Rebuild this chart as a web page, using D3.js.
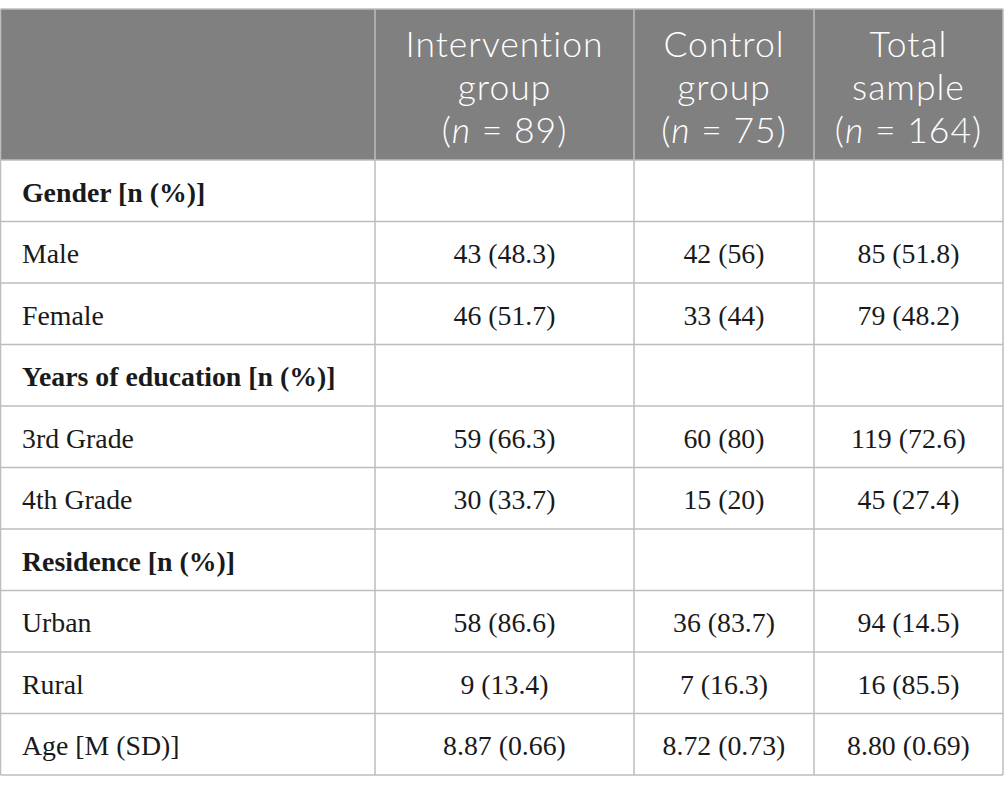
<!DOCTYPE html>
<html>
<head>
<meta charset="utf-8">
<script src="https://cdn.jsdelivr.net/npm/d3@7"></script>
<style>
  html, body { margin: 0; padding: 0; background: #fff; }
  svg { display: block; }
</style>
</head>
<body>
<div id="container"></div>
<script>
// table content
const headers = [
    [],
    ['Intervention', 'group', '89'],
    ['Control', 'group', '75'],
    ['Total', 'sample', '164']
];
const rowLabels = ['Gender [n (%)]', 'Male', 'Female', 'Years of education [n (%)]', '3rd Grade', '4th Grade',
    'Residence [n (%)]', 'Urban', 'Rural', 'Age [M (SD)]'];
const sectionRows = ['Gender [n (%)]', 'Years of education [n (%)]', 'Residence [n (%)]'];
const interventionVals = ['', '43 (48.3)', '46 (51.7)', '', '59 (66.3)', '30 (33.7)', '', '58 (86.6)', '9 (13.4)', '8.87 (0.66)'];
const controlVals = ['', '42 (56)', '33 (44)', '', '60 (80)', '15 (20)', '', '36 (83.7)', '7 (16.3)', '8.72 (0.73)'];
const totalVals = ['', '85 (51.8)', '79 (48.2)', '', '119 (72.6)', '45 (27.4)', '', '94 (14.5)', '16 (85.5)', '8.80 (0.69)'];

const W = 1004, H = 790;
const tableTop = 9, headerBottom = 160, tableBottom = 775;
const colEdges = [0.5, 375, 634, 814, 1003];
const lineColor = '#bdbdbd';

const svg = d3.select('#container')
    .append('svg')
    .attr('width', W)
    .attr('height', H);

const y = d3.scaleBand()
    .domain(rowLabels)
    .range([headerBottom, tableBottom]);

const columns = [interventionVals, controlVals, totalVals];

// header background
svg.append('rect')
    .attr('x', colEdges[0])
    .attr('y', tableTop)
    .attr('width', colEdges[4] - colEdges[0])
    .attr('height', headerBottom - tableTop)
    .attr('fill', '#808080');

// header text, three lines per column
const headG = svg.append('g')
    .attr('font-family', 'Lato, "Open Sans", sans-serif')
    .attr('font-weight', 300)
    .attr('font-size', 35.5)
    .attr('letter-spacing', 1)
    .attr('fill', '#fff')
    .attr('text-anchor', 'middle');

headers.forEach((h, i) => {
    if (!h.length) return;
    const cx = (colEdges[i] + colEdges[i + 1]) / 2;
    headG.append('text').attr('x', cx).attr('y', 57).text(h[0]);
    headG.append('text').attr('x', cx).attr('y', 100).text(h[1]);
    const t = headG.append('text').attr('x', cx).attr('y', 143);
    t.append('tspan').text('(');
    t.append('tspan').attr('font-style', 'italic').text('n');
    t.append('tspan').text(' = ' + h[2] + ')');
});

// grid lines
const grid = svg.append('g')
    .attr('stroke', lineColor)
    .attr('stroke-width', 1.5);

grid.append('line')
    .attr('x1', colEdges[0]).attr('x2', colEdges[4])
    .attr('y1', tableTop).attr('y2', tableTop);

grid.selectAll('.hline')
    .data(rowLabels)
    .enter()
    .append('line')
    .attr('class', 'hline')
    .attr('x1', colEdges[0]).attr('x2', colEdges[4])
    .attr('y1', d => y(d)).attr('y2', d => y(d));

grid.append('line')
    .attr('x1', colEdges[0]).attr('x2', colEdges[4])
    .attr('y1', tableBottom).attr('y2', tableBottom);

grid.selectAll('.vline')
    .data(colEdges)
    .enter()
    .append('line')
    .attr('class', 'vline')
    .attr('x1', d => d).attr('x2', d => d)
    .attr('y1', tableTop).attr('y2', tableBottom);

// body text
const body = svg.append('g')
    .attr('font-family', '"Liberation Serif", "DejaVu Serif", serif')
    .attr('font-size', 27.8)
    .attr('fill', '#1a1a1a');

body.selectAll('.label')
    .data(rowLabels)
    .enter()
    .append('text')
    .attr('class', 'label')
    .attr('x', 22)
    .attr('y', d => y(d) + y.bandwidth() / 2 + 11)
    .attr('font-weight', d => sectionRows.includes(d) ? 'bold' : 'normal')
    .text(d => d);

columns.forEach((vals, c) => {
    const cx = (colEdges[c + 1] + colEdges[c + 2]) / 2;
    body.selectAll('.val' + c)
        .data(vals)
        .enter()
        .append('text')
        .attr('class', 'val' + c)
        .attr('x', cx)
        .attr('y', (d, i) => y(rowLabels[i]) + y.bandwidth() / 2 + 11)
        .attr('text-anchor', 'middle')
        .text(d => d);
});
</script>
</body>
</html>
